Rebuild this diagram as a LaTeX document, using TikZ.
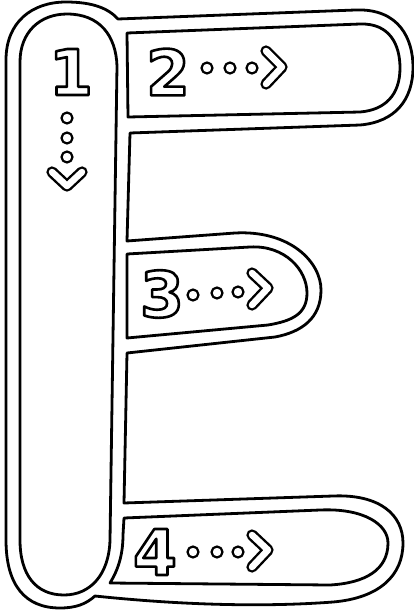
\documentclass[tikz,border=0pt]{standalone}
\usepackage{fontspec}
\newfontfamily\digitfont{DejaVu Sans}
\newcommand\hollowtext[1]{\special{pdf:literal direct 1 Tr 2.6 w 1 j}#1\special{pdf:literal direct 0 Tr}}
\begin{document}
\begin{tikzpicture}[x=1pt,y=-1pt,line join=round]
\tikzset{
  shapeline/.style={line width=2.8pt,draw=black,fill=white},
  dotmark/.style={circle,draw=black,line width=2.2pt,fill=white,minimum size=11pt,inner sep=0pt},
  numlabel/.style={font=\digitfont\bfseries\fontsize{63}{63}\selectfont,inner sep=0pt},
  chevron/.style={draw=black,line width=2.4pt,double=white,double distance=6.5pt,line cap=round,line join=round}
}
\useasboundingbox (0,0) rectangle (414,614);
% outer outline of the E
\path[shapeline] (6,60) .. controls (6,22) and (32,2) .. (66,2)
  .. controls (92,2) and (108,8) .. (118,19)
  -- (355,10) .. controls (400,8) and (413,40) .. (413,67)
  .. controls (413,100) and (395,122) .. (360,125) -- (130,133)
  -- (127,241) -- (235,233) .. controls (290,230) and (321,262) .. (321,290)
  .. controls (321,318) and (302,332) .. (275,337) -- (127,353)
  -- (124,503) -- (333,496) .. controls (380,494) and (403,515) .. (403,543)
  .. controls (403,575) and (380,598) .. (333,602)
  .. controls (280,606) and (200,607) .. (95,596)
  .. controls (86,604) and (76,608) .. (60,608)
  .. controls (25,608) and (6,585) .. (6,540) -- cycle;
% vertical stroke
\path[shapeline] (20,62) .. controls (20,32) and (40,14) .. (67,14)
  .. controls (100,14) and (116,36) .. (117,66) -- (110,540)
  .. controls (109,575) and (90,595) .. (64,595)
  .. controls (36,595) and (20,575) .. (20,540) -- cycle;
% top bar
\path[shapeline] (127,33) -- (360,24) .. controls (390,23) and (400,45) .. (400,68)
  .. controls (400,95) and (385,110) .. (360,112) -- (128,117) -- cycle;
% middle bar
\path[shapeline] (127,254) -- (250,247) .. controls (285,245) and (307,270) .. (307,293)
  .. controls (307,314) and (292,321) .. (268,325) -- (127,338) -- cycle;
% bottom bar
\path[shapeline] (124,518) -- (320,510) .. controls (365,508) and (388,525) .. (388,543)
  .. controls (388,570) and (365,583) .. (330,585) -- (110,583)
  .. controls (118,570) and (123,555) .. (123,535) -- cycle;
% stroke 1
\node[numlabel] (n1) at (71,72) {\hollowtext{1}};
\node[dotmark] (d11) at (67,118) {};
\node[dotmark] (d12) at (67,138) {};
\node[dotmark] (d13) at (67,157) {};
\draw[chevron] (52,172) -- (67,186) -- (82,172);
% stroke 2
\node[numlabel] (n2) at (168,72) {\hollowtext{2}};
\node[dotmark] (d21) at (207,68) {};
\node[dotmark] (d22) at (230,68) {};
\node[dotmark] (d23) at (252,68) {};
\draw[chevron] (266,51) -- (282,67) -- (266,84);
% stroke 3
\node[numlabel] (n3) at (162,294) {\hollowtext{3}};
\node[dotmark] (d31) at (193,295) {};
\node[dotmark] (d32) at (217,293) {};
\node[dotmark] (d33) at (238,292) {};
\draw[chevron] (252,273) -- (268,288) -- (252,305);
% stroke 4
\node[numlabel] (n4) at (155,552) {\hollowtext{4}};
\node[dotmark] (d41) at (193,552) {};
\node[dotmark] (d42) at (217,552) {};
\node[dotmark] (d43) at (238,552) {};
\draw[chevron] (252,535) -- (268,550) -- (252,567);
\end{tikzpicture}
\end{document}
